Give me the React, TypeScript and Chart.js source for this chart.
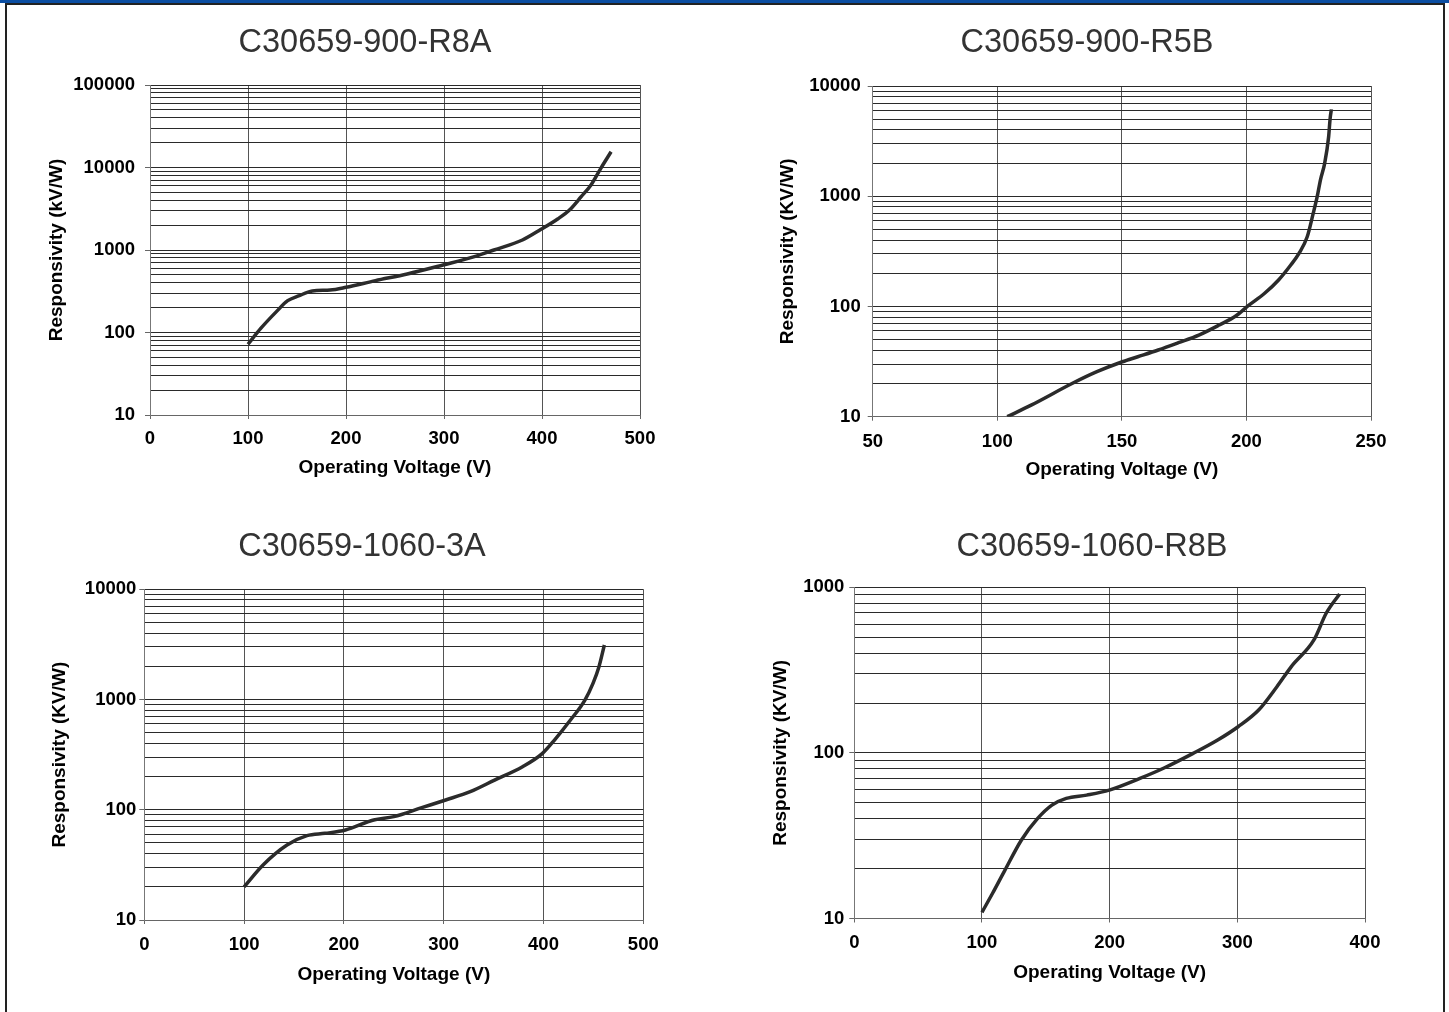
import React, { useEffect, useRef } from "react";
import { Chart, registerables } from "chart.js";

Chart.register(...registerables);

const FONT = "'Liberation Sans', Arial, Helvetica, sans-serif";

// ---------- Data: C30659-900-R8A ----------
const title1 = "C30659-900-R8A";
const volts1 = [100, 113, 129, 140.5, 151.5, 165.6, 183.8, 200, 230, 262.5, 299, 331, 351, 380, 399, 416, 428, 440, 450, 460, 470.5];
const resp1 = [72, 112, 179, 243, 277, 318, 327, 353, 425, 512, 658, 830, 1000, 1321, 1780, 2376, 3050, 4430, 6140, 9770, 15500];
const xTicks1 = [0, 100, 200, 300, 400, 500];
const yMajor1 = [10, 100, 1000, 10000, 100000];
const yTitle1 = "Responsivity (kV/W)";

// ---------- Data: C30659-900-R5B ----------
const title2 = "C30659-900-R5B";
const volts2 = [104, 113.8, 130.2, 140, 150.2, 156.4, 164.6, 172.7, 180.9, 189.1, 195.7, 200.6, 207.2, 212.9, 217.8, 221.1, 224.4, 226.8, 228.4, 229.7, 231.4, 233, 233.6, 234.1];
const resp2 = [10, 12.8, 20.1, 25.6, 31.5, 35, 40.3, 46.9, 55, 67.9, 81.9, 101, 131, 174, 238, 303, 429, 699, 990, 1403, 1987, 3467, 5085, 6138];
const xTicks2 = [50, 100, 150, 200, 250];
const yMajor2 = [10, 100, 1000, 10000];
const yTitle2 = "Responsivity (KV/W)";

// ---------- Data: C30659-1060-3A ----------
const title3 = "C30659-1060-3A";
const volts3 = [100, 119, 143, 163, 181, 201.6, 229.8, 250, 278, 302, 326.6, 351, 379, 399, 411, 427, 441.5, 449.6, 455.6, 461];
const resp3 = [20, 31.6, 47.9, 58.2, 61.1, 65.5, 80.8, 86.6, 104.5, 122.7, 146, 186, 246, 325, 429, 652, 990, 1403, 1987, 3125];
const xTicks3 = [0, 100, 200, 300, 400, 500];
const yMajor3 = [10, 100, 1000, 10000];
const yTitle3 = "Responsivity (KV/W)";

// ---------- Data: C30659-1060-R8B ----------
const title4 = "C30659-1060-R8B";
const volts4 = [100, 108.3, 118, 130.8, 143.6, 154.8, 166, 182, 199.7, 223.7, 243, 265.4, 284.6, 300.6, 316.7, 331, 342.3, 360, 369.6, 380.1];
const resp4 = [10.9, 14.2, 19.6, 29.7, 40.2, 48.4, 53.1, 55.6, 59.6, 70.1, 81.3, 99.3, 119.6, 143.9, 181.5, 251, 332, 481, 697, 912];
const xTicks4 = [0, 100, 200, 300, 400];
const yMajor4 = [10, 100, 1000];
const yTitle4 = "Responsivity (KV/W)";

const xTitle = "Operating Voltage (V)";

// ---------- Layout (page pixels) ----------
type Layout = {
  box: { left: number; top: number; width: number; height: number };
  plot: { l: number; t: number; r: number; b: number };
  titleY: number;
  yTitleX: number;
  xTitleY: number;
  yTickGap: number;
  xTickY: number;
};

const layouts: Layout[] = [
  { box: { left: 20, top: 10, width: 690, height: 480 }, plot: { l: 150, t: 85, r: 640, b: 415 }, titleY: 43.4, yTitleX: 57, xTitleY: 468, yTickGap: 15, xTickY: 439 },
  { box: { left: 760, top: 10, width: 654, height: 480 }, plot: { l: 872.7, t: 86, r: 1371, b: 416.7 }, titleY: 43.4, yTitleX: 788, xTitleY: 470, yTickGap: 12, xTickY: 441.5 },
  { box: { left: 20, top: 515, width: 684, height: 485 }, plot: { l: 144.3, t: 589.3, r: 643.3, b: 920 }, titleY: 547.5, yTitleX: 60, xTitleY: 975, yTickGap: 8, xTickY: 945 },
  { box: { left: 750, top: 515, width: 684, height: 485 }, plot: { l: 854.3, t: 587.3, r: 1365, b: 918.5 }, titleY: 547.5, yTitleX: 781, xTitleY: 973, yTickGap: 10, xTickY: 943 },
];

type Spec = {
  title: string;
  volts: number[];
  resp: number[];
  xTicks: number[];
  yMajor: number[];
  yTitle: string;
  layout: Layout;
};

const specs: Spec[] = [
  { title: title1, volts: volts1, resp: resp1, xTicks: xTicks1, yMajor: yMajor1, yTitle: yTitle1, layout: layouts[0] },
  { title: title2, volts: volts2, resp: resp2, xTicks: xTicks2, yMajor: yMajor2, yTitle: yTitle2, layout: layouts[1] },
  { title: title3, volts: volts3, resp: resp3, xTicks: xTicks3, yMajor: yMajor3, yTitle: yTitle3, layout: layouts[2] },
  { title: title4, volts: volts4, resp: resp4, xTicks: xTicks4, yMajor: yMajor4, yTitle: yTitle4, layout: layouts[3] },
];

const TITLE_SIZE = 32.5;
const AXIS_TITLE_SIZE = 19;
const TICK_SIZE = 18.5;
const LH = 1.2;
const X_TICK_LEN = 4;
const Y_TICK_LEN = 5;

function logGrid(majors: number[]): number[] {
  const out: number[] = [];
  for (let i = 0; i < majors.length; i++) {
    out.push(majors[i]);
    if (i < majors.length - 1) {
      for (let k = 2; k <= 9; k++) out.push(majors[i] * k);
    }
  }
  return out;
}

function LogChart({ spec }: { spec: Spec }) {
  const ref = useRef<HTMLCanvasElement>(null);
  const { box, plot } = spec.layout;

  useEffect(() => {
    const L = spec.layout;
    const titleLh = TITLE_SIZE * LH;
    const titlePadTop = L.titleY - box.top - titleLh / 2;
    const titlePadBottom = plot.t - box.top - titleLh - titlePadTop;
    const yWidth = plot.l - box.left;
    const axisLh = AXIS_TITLE_SIZE * LH;
    const yTitlePad = L.yTitleX - box.left - axisLh / 2;
    const rightPad = box.left + box.width - plot.r;
    const xHeight = box.top + box.height - plot.b;
    const xTitlePad = box.top + box.height - L.xTitleY - axisLh / 2;
    const tickLh = TICK_SIZE * LH;
    const xTickPad = L.xTickY - plot.b - X_TICK_LEN - tickLh / 2;
    const yTickPad = L.yTickGap - Y_TICK_LEN;

    const yVals = logGrid(spec.yMajor);
    const isMajor = (v: number) => spec.yMajor.indexOf(v) >= 0;

    const chart = new Chart(ref.current as HTMLCanvasElement, {
      type: "line",
      data: {
        datasets: [
          {
            data: spec.volts.map((v, i) => ({ x: v, y: spec.resp[i] })),
            borderColor: "#2b2b2b",
            borderWidth: 3.5,
            pointRadius: 0,
            cubicInterpolationMode: "monotone",
            fill: false,
            xAxisID: "x",
            yAxisID: "y",
          },
        ],
      },
      options: {
        responsive: false,
        animation: false,
        devicePixelRatio: 1,
        layout: { autoPadding: false, padding: 0 },
        plugins: {
          legend: { display: false },
          tooltip: { enabled: false },
          title: {
            display: true,
            text: spec.title,
            color: "#333",
            align: "center",
            fullSize: true,
            font: { family: FONT, size: TITLE_SIZE, weight: "normal", lineHeight: LH },
            padding: { top: titlePadTop, bottom: titlePadBottom },
          },
        },
        scales: {
          x: {
            type: "linear",
            position: "bottom",
            min: spec.xTicks[0],
            max: spec.xTicks[spec.xTicks.length - 1],
            afterBuildTicks: (s: any) => {
              s.ticks = spec.xTicks.map((v) => ({ value: v }));
            },
            afterFit: (s: any) => {
              s.height = xHeight;
            },
            grid: {
              color: "#555",
              lineWidth: 1,
              drawTicks: true,
              tickLength: X_TICK_LEN,
              tickColor: "#666",
            },
            border: { display: true, color: "#666", width: 1 },
            ticks: {
              autoSkip: false,
              maxRotation: 0,
              padding: xTickPad,
              color: "#000",
              font: { family: FONT, size: TICK_SIZE, weight: "bold", lineHeight: LH },
              callback: (v: any) => String(v),
            },
            title: {
              display: true,
              text: xTitle,
              color: "#000",
              font: { family: FONT, size: AXIS_TITLE_SIZE, weight: "bold", lineHeight: LH },
              padding: { top: 0, bottom: xTitlePad },
            },
          },
          y: {
            type: "logarithmic",
            position: "left",
            min: spec.yMajor[0],
            max: spec.yMajor[spec.yMajor.length - 1],
            afterBuildTicks: (s: any) => {
              s.ticks = yVals.map((v) => ({ value: v, major: isMajor(v) }));
            },
            afterFit: (s: any) => {
              s.width = yWidth;
            },
            grid: {
              color: "#2a2a2a",
              lineWidth: 1,
              drawTicks: true,
              tickLength: Y_TICK_LEN,
              tickColor: (ctx: any) => (ctx.tick && isMajor(ctx.tick.value) ? "#666" : "rgba(0,0,0,0)"),
            },
            border: { display: true, color: "#777", width: 1 },
            ticks: {
              autoSkip: false,
              padding: yTickPad,
              color: "#000",
              font: { family: FONT, size: TICK_SIZE, weight: "bold", lineHeight: LH },
              callback: (v: any) => (isMajor(Number(v)) ? String(v) : ""),
            },
            title: {
              display: true,
              text: spec.yTitle,
              color: "#000",
              font: { family: FONT, size: AXIS_TITLE_SIZE, weight: "bold", lineHeight: LH },
              padding: { top: yTitlePad, bottom: 0 },
            },
          },
          yr: {
            type: "linear",
            position: "right",
            display: true,
            afterFit: (s: any) => {
              s.width = rightPad;
            },
            grid: { display: false, drawTicks: false },
            border: { display: false },
            ticks: { display: false },
          },
        },
      } as any,
    });
    return () => chart.destroy();
  }, []);

  return (
    <canvas
      ref={ref}
      width={box.width}
      height={box.height}
      style={{ position: "absolute", left: box.left, top: box.top, width: box.width, height: box.height }}
    />
  );
}

export default function App() {
  return (
    <div
      style={{
        position: "absolute",
        left: 0,
        top: 0,
        width: 1449,
        height: 1012,
        background: "#fff",
        overflow: "hidden",
      }}
    >
      <div style={{ position: "absolute", left: 0, top: 0, width: 1449, height: 3, background: "#0b4ea2" }} />
      <div style={{ position: "absolute", left: 5, top: 3, width: 1440, height: 2, background: "#222" }} />
      <div style={{ position: "absolute", left: 5, top: 3, width: 2, height: 1009, background: "#222" }} />
      <div style={{ position: "absolute", left: 1443, top: 3, width: 2, height: 1009, background: "#222" }} />
      {specs.map((s, i) => (
        <LogChart key={i} spec={s} />
      ))}
    </div>
  );
}
